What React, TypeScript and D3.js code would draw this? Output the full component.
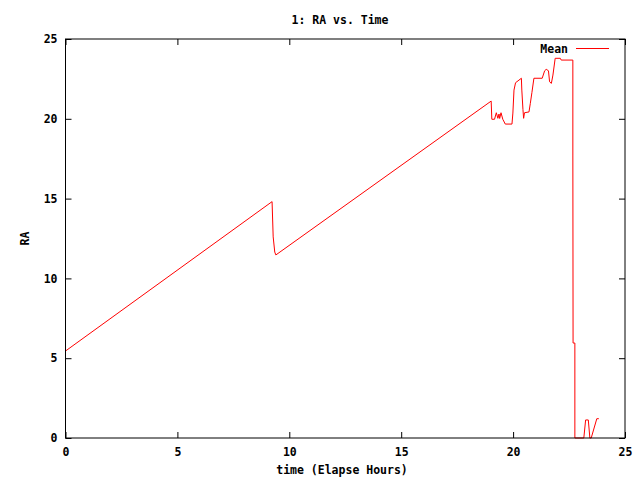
import React, { useEffect, useRef } from "react";
import * as d3 from "d3";

// elapsed hours / mean RA
const hours = [
  0, 9.23, 9.28, 9.35, 9.4, 19.02, 19.05, 19.17, 19.25, 19.32, 19.37, 19.4,
  19.46, 19.54, 19.65, 19.95, 19.99, 20.04, 20.11, 20.37, 20.39, 20.44, 20.47,
  20.51, 20.71, 20.77, 20.84, 20.93, 21.3, 21.41, 21.48, 21.58, 21.63, 21.71,
  21.78, 21.88, 22.11, 22.15, 22.67, 22.67, 22.68, 22.76, 22.76, 23.16, 23.24,
  23.36, 23.43, 23.49, 23.74, 23.83,
];
const ra = [
  5.45, 14.81, 12.6, 11.65, 11.47, 21.11, 19.97, 19.97, 20.38, 20.03, 20.3,
  20.02, 20.38, 19.97, 19.67, 19.67, 20.36, 21.8, 22.26, 22.54, 21.8, 20.59,
  20.03, 20.38, 20.43, 20.97, 21.64, 22.54, 22.54, 23.01, 23.1, 23.01, 22.32,
  22.22, 22.74, 23.79, 23.79, 23.68, 23.68, 17.73, 5.95, 5.95, 0, 0, 1.13,
  1.13, 0, 0, 1.21, 1.21,
];
const xTicks = [0, 5, 10, 15, 20, 25];
const yTicks = [0, 5, 10, 15, 20, 25];

const W = 640;
const H = 480;
const FONT = "'DejaVu Sans Mono', 'Liberation Mono', monospace";
const FONT_SIZE = "11.5px";

const App: React.FC = () => {
  const svgRef = useRef<SVGSVGElement>(null);

  useEffect(() => {
    if (!svgRef.current) return;
    const svg = d3.select(svgRef.current);
    svg.selectAll("*").remove();

    const margin = { top: 39, right: 15, bottom: 42, left: 65.5 };
    const innerW = W - margin.left - margin.right;
    const innerH = H - margin.top - margin.bottom;

    svg.append("rect").attr("width", W).attr("height", H).attr("fill", "#fff");

    const g = svg
      .append("g")
      .attr("transform", `translate(${margin.left}, ${margin.top})`);

    const x = d3.scaleLinear().domain([0, 25]).range([0, innerW]);
    const y = d3.scaleLinear().domain([0, 25]).range([innerH, 0]);

    // data line
    const pts: [number, number][] = hours.map((h, i) => [h, ra[i]]);
    const line = d3
      .line<[number, number]>()
      .x((d) => x(d[0]))
      .y((d) => y(d[1]));
    g.append("path")
      .datum(pts)
      .attr("d", line)
      .attr("fill", "none")
      .attr("stroke", "#ff0000")
      .attr("stroke-width", 1);

    // axes, ticks pointing inward like gnuplot
    const styleAxis = (sel: d3.Selection<SVGGElement, unknown, null, undefined>) => {
      sel.select(".domain").remove();
      sel.selectAll("line").attr("stroke", "#000");
      sel
        .selectAll("text")
        .attr("fill", "#000")
        .style("font-family", FONT)
        .style("font-size", FONT_SIZE)
        .style("font-weight", "bold");
    };

    g.append("g")
      .attr("transform", `translate(0, ${innerH})`)
      .call(d3.axisBottom(x).tickValues(xTicks).tickSizeInner(-6).tickSizeOuter(0).tickPadding(10))
      .call(styleAxis);
    g.append("g")
      .call(d3.axisTop(x).tickValues(xTicks).tickSizeInner(-6).tickSizeOuter(0).tickFormat(() => ""))
      .call(styleAxis);
    g.append("g")
      .call(d3.axisLeft(y).tickValues(yTicks).tickSizeInner(-6).tickSizeOuter(0).tickPadding(8))
      .call(styleAxis);
    g.append("g")
      .attr("transform", `translate(${innerW}, 0)`)
      .call(d3.axisRight(y).tickValues(yTicks).tickSizeInner(-6).tickSizeOuter(0).tickFormat(() => ""))
      .call(styleAxis);

    // border
    g.append("rect")
      .attr("width", innerW)
      .attr("height", innerH)
      .attr("fill", "none")
      .attr("stroke", "#000")
      .attr("stroke-width", 1);

    const label = (t: string) =>
      svg
        .append("text")
        .attr("text-anchor", "middle")
        .style("font-family", FONT)
        .style("font-size", FONT_SIZE)
        .style("font-weight", "bold")
        .attr("fill", "#000")
        .text(t);

    label("1: RA vs. Time").attr("x", 340).attr("y", 24);
    label("time (Elapse Hours)").attr("x", 342).attr("y", 474);
    label("RA").attr("transform", `translate(29, ${margin.top + innerH / 2}) rotate(-90)`);

    // legend
    svg
      .append("text")
      .attr("x", 568)
      .attr("y", 53)
      .attr("text-anchor", "end")
      .style("font-family", FONT)
      .style("font-size", FONT_SIZE)
      .style("font-weight", "bold")
      .attr("fill", "#000")
      .text("Mean");
    svg
      .append("line")
      .attr("x1", 576)
      .attr("x2", 609)
      .attr("y1", 48.5)
      .attr("y2", 48.5)
      .attr("stroke", "#ff0000")
      .attr("stroke-width", 1);
  }, []);

  return (
    <svg
      ref={svgRef}
      width={W}
      height={H}
      style={{ position: "absolute", left: 0, top: 0 }}
    />
  );
};

export default App;
